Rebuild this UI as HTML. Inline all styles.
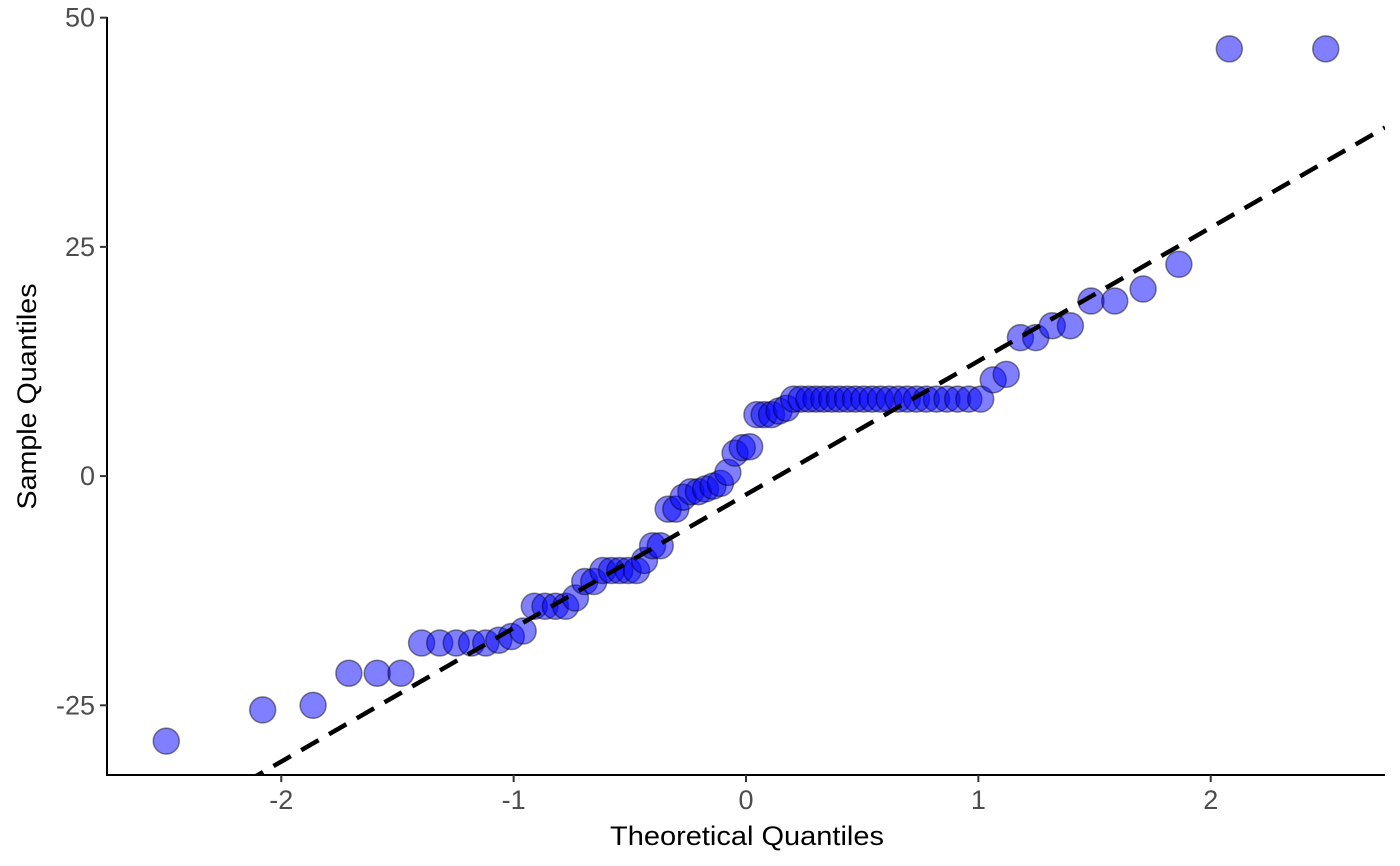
<!DOCTYPE html>
<html><head><meta charset="utf-8"><style>
html,body{margin:0;padding:0;background:#fff;}
svg{display:block;font-family:"Liberation Sans",Arial,sans-serif;}
</style></head><body>
<svg id="chart" width="1400" height="866"></svg>
<script>
const theoreticalQuantiles=[-2.495,-2.080,-1.863,-1.709,-1.587,-1.485,-1.396,-1.318,-1.247,-1.181,-1.120,-1.064,-1.010,-0.959,-0.911,-0.865,-0.820,-0.776,-0.734,-0.694,-0.655,-0.616,-0.579,-0.543,-0.507,-0.471,-0.437,-0.402,-0.369,-0.335,-0.302,-0.270,-0.237,-0.205,-0.174,-0.142,-0.110,-0.078,-0.047,-0.016,
0.016,0.047,0.078,0.110,0.142,0.174,0.205,0.237,0.270,0.302,0.335,0.369,0.402,0.437,0.471,0.507,0.543,0.579,0.616,0.655,0.694,0.734,0.776,0.820,0.865,0.911,0.959,1.010,1.064,1.120,1.181,1.247,1.318,1.396,1.485,1.587,1.709,1.863,2.080,2.495];
const sampleQuantiles=[-28.9,-25.5,-25.0,-21.5,-21.5,-21.5,-18.2,-18.2,-18.2,-18.2,-18.2,-17.9,-17.5,-16.9,-14.2,-14.2,-14.2,-14.2,-13.3,-11.5,-11.5,-10.3,-10.3,-10.3,-10.3,-10.3,-9.2,-7.6,-7.6,-3.6,-3.6,-2.3,-1.7,-1.7,-1.4,-1.1,-0.8,0.4,2.5,3.1,
3.2,6.7,6.7,6.7,7.1,7.4,8.4,8.4,8.4,8.4,8.4,8.4,8.4,8.4,8.4,8.4,8.4,8.4,8.4,8.4,8.4,8.4,8.4,8.4,8.4,8.4,8.4,8.4,10.5,11.1,15.1,15.1,16.4,16.4,19.1,19.1,20.4,23.1,46.6,46.6];
const xTicks=[-2,-1,0,1,2];
const xTickLabels=["-2","-1","0","1","2"];
const yTicks=[-25,0,25,50];
const yTickLabels=["-25","0","25","50"];
const refSlope=[14.56];
const refIntercept=[-2.02];

const NS="http://www.w3.org/2000/svg";
const svg=document.getElementById('chart');
const L=107,R=1385,T=14,B=775;
const xMin=-2.75,xMax=2.75,yMin=-32.6,yMax=50.4;
const xs=v=>L+(v-xMin)/(xMax-xMin)*(R-L);
const ys=v=>B-(v-yMin)/(yMax-yMin)*(B-T);
function mk(tag,attrs,parent){const e=document.createElementNS(NS,tag);for(const k in attrs)e.setAttribute(k,attrs[k]);(parent||svg).appendChild(e);return e;}

const defs=mk('defs',{});
const cp=mk('clipPath',{id:'plotclip'},defs);
mk('rect',{x:L,y:T,width:R-L,height:B-T},cp);

const pts=mk('g',{});


for(let i=0;i<sampleQuantiles.length;i++){
  const c=mk('circle',{cx:xs(theoreticalQuantiles[i]),cy:ys(sampleQuantiles[i]),r:13,fill:'rgba(0,0,255,0.5)',stroke:'rgba(0,0,0,0.45)','stroke-width':1.5},pts);
  
  
}
const ln=mk('line',{x1:xs(xMin),y1:ys(refIntercept[0]+refSlope[0]*xMin),x2:xs(xMax),y2:ys(refIntercept[0]+refSlope[0]*xMax),stroke:'#000','stroke-width':4.5,'stroke-dasharray':'20 12','clip-path':'url(#plotclip)'});



const ax=mk('path',{d:`M${L},${T+3}V${B}H${R}`,fill:'none',stroke:'#000','stroke-width':2});


xTicks.forEach((v,i)=>{
  const x=xs(v);
  mk('line',{x1:x,y1:B,x2:x,y2:B+7,stroke:'#333','stroke-width':2});
  const t=mk('text',{x:x,y:B+34,'text-anchor':'middle','font-size':27,fill:'#4d4d4d'});
  t.textContent=xTickLabels[i];
  
  
});
yTicks.forEach((v,i)=>{
  const y=ys(v);
  mk('line',{x1:L-7,y1:y,x2:L,y2:y,stroke:'#333','stroke-width':2});
  const t=mk('text',{x:L-12,y:y+9,'text-anchor':'end','font-size':27,fill:'#4d4d4d'});
  t.textContent=yTickLabels[i];
  
  
});
const xt=mk('text',{x:(L+R)/2+1,y:845,'text-anchor':'middle','font-size':27,fill:'#000',textLength:274,lengthAdjust:'spacingAndGlyphs'});
xt.textContent='Theoretical Quantiles';


const yt=mk('text',{x:0,y:0,'text-anchor':'middle','font-size':27,fill:'#000',textLength:226,lengthAdjust:'spacingAndGlyphs',transform:`translate(36,${(T+B)/2+2}) rotate(-90)`});
yt.textContent='Sample Quantiles';


</script>
</body></html>
